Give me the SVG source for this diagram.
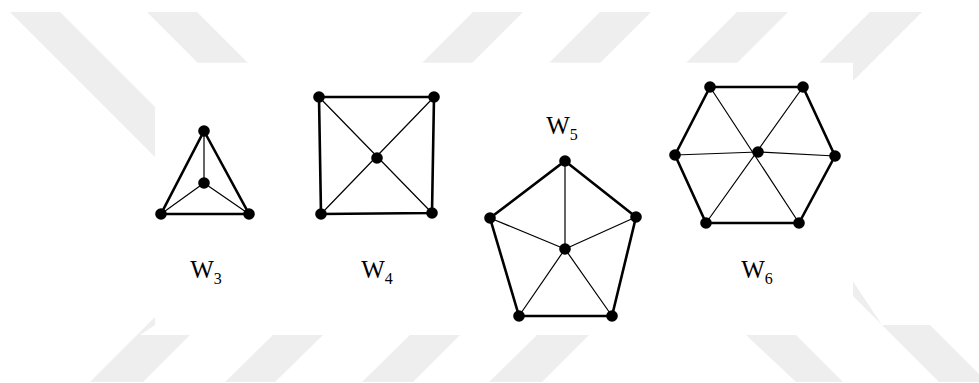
<svg xmlns="http://www.w3.org/2000/svg" width="979" height="383" viewBox="0 0 979 383">
<style>
.band{fill:#eeeeee}
.rim{stroke:#000;stroke-width:2.6;fill:none;stroke-linecap:round}
.spoke{stroke:#000;stroke-width:1.2;fill:none}
.v{fill:#000}
.lbl{font-family:"Liberation Serif","Times New Roman",serif;font-size:25px;fill:#000}
.sub{font-size:16px}
</style>
<rect width="979" height="383" fill="#ffffff"/>
<g id="watermark">
<polygon class="band" points="10,12 60,12 260,212 210,212"/>
<polygon class="band" points="147,12 197,12 297,112 247,112"/>
<polygon class="band" points="473,12 523,12 423,112 373,112"/>
<polygon class="band" points="600,12 651,12 551,112 500,112"/>
<polygon class="band" points="737,12 788,12 688,112 637,112"/>
<polygon class="band" points="870,12 922,12 822,112 770,112"/>
<polygon class="band" points="882,325 930,325 987,382 939,382 739,182 787,182" />
<polygon class="band" points="140,335 190,335 143,382 90,382 230,242 280,242"/>
<polygon class="band" points="273,335 323,335 275,382 225,382"/>
<polygon class="band" points="410,335 460,335 413,382 362,382"/>
<polygon class="band" points="537,335 589,335 542,382 489,382"/>
<polygon class="band" points="746,335 796,335 843,382 796,382"/>
<rect x="155" y="62.7" width="698" height="272.3" fill="#ffffff"/>
</g>
<g id="connectors">
<polygon class="rim" points="204,131 249,214 161,214"/>
<path class="spoke" d="M204,131 L204,183 M161,214 L204,183 M249,214 L204,183"/>
<polygon class="rim" points="319,97 434,97 432,213 321,214"/>
<path class="spoke" d="M319,97 L432,213 M434,97 L321,214"/>
<polygon class="rim" points="565,161 636,217 612,316 519,316 490,218"/>
<path class="spoke" d="M565,161 L565,249 M636,217 L565,249 M612,316 L565,249 M519,316 L565,249 M490,218 L565,249"/>
<polygon class="rim" points="710,87 803,87 835,156 799,223 706,223 675,155"/>
<path class="spoke" d="M710,87 L799,223 M803,87 L706,223 M675,155 L758,152 L835,156"/>
</g>
<g id="W3">
<circle class="v" cx="204" cy="131" r="5.8"/>
<circle class="v" cx="204" cy="183" r="5.8"/>
<circle class="v" cx="161" cy="214" r="5.8"/>
<circle class="v" cx="249" cy="214" r="5.8"/>
<text class="lbl" x="206" y="278" text-anchor="middle">W<tspan class="sub" dy="6">3</tspan></text>
</g>
<g id="W4">
<circle class="v" cx="319" cy="97" r="5.8"/>
<circle class="v" cx="434" cy="97" r="5.8"/>
<circle class="v" cx="377" cy="158" r="5.8"/>
<circle class="v" cx="321" cy="214" r="5.8"/>
<circle class="v" cx="432" cy="213" r="5.8"/>
<text class="lbl" x="377" y="278" text-anchor="middle">W<tspan class="sub" dy="6">4</tspan></text>
</g>
<g id="W5">
<circle class="v" cx="565" cy="161" r="5.8"/>
<circle class="v" cx="636" cy="217" r="5.8"/>
<circle class="v" cx="612" cy="316" r="5.8"/>
<circle class="v" cx="519" cy="316" r="5.8"/>
<circle class="v" cx="490" cy="218" r="5.8"/>
<circle class="v" cx="565" cy="249" r="5.8"/>
<text class="lbl" x="562" y="134" text-anchor="middle">W<tspan class="sub" dy="6">5</tspan></text>
</g>
<g id="W6">
<circle class="v" cx="710" cy="87" r="5.8"/>
<circle class="v" cx="803" cy="87" r="5.8"/>
<circle class="v" cx="835" cy="156" r="5.8"/>
<circle class="v" cx="799" cy="223" r="5.8"/>
<circle class="v" cx="706" cy="223" r="5.8"/>
<circle class="v" cx="675" cy="155" r="5.8"/>
<circle class="v" cx="758" cy="152" r="5.8"/>
<text class="lbl" x="757" y="278" text-anchor="middle">W<tspan class="sub" dy="6">6</tspan></text>
</g>
</svg>
